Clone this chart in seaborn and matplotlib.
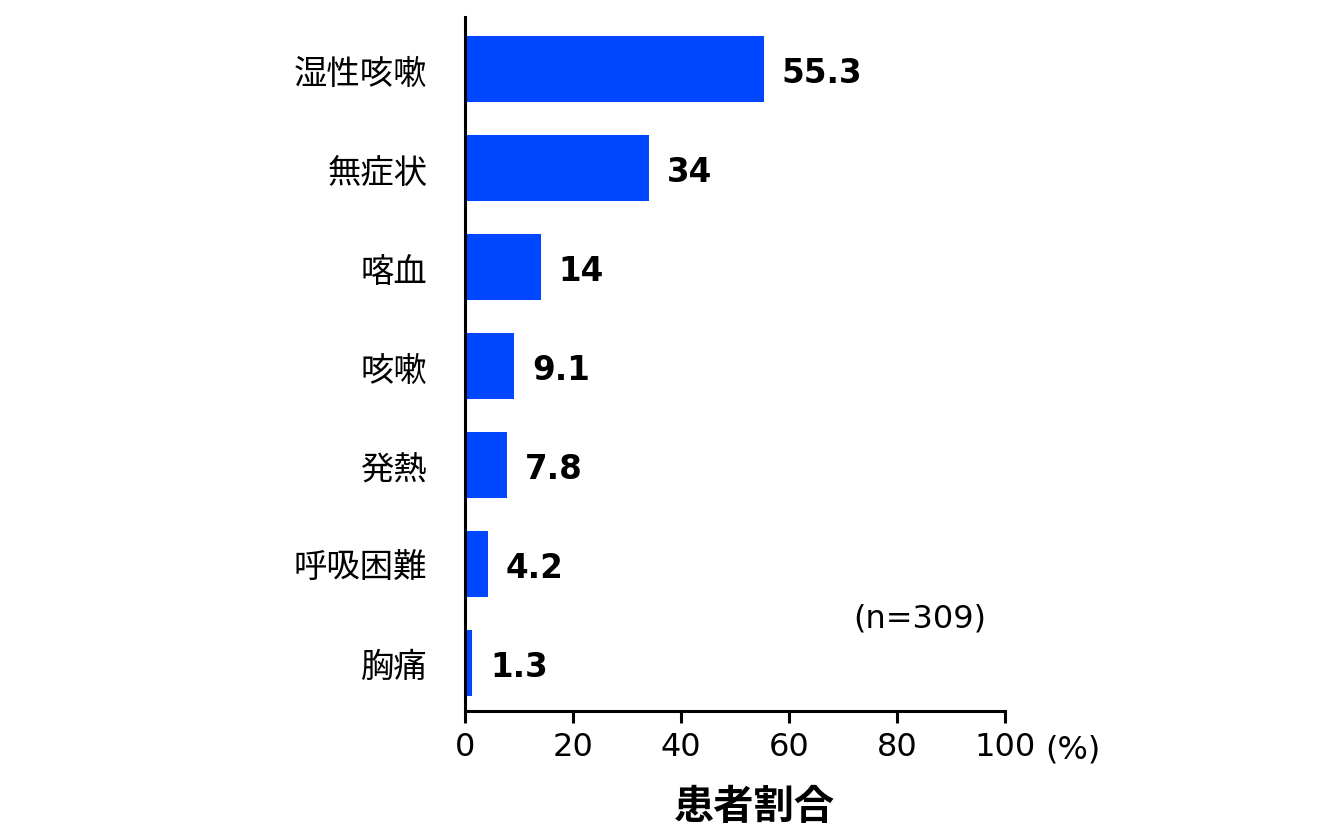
import matplotlib
matplotlib.use("Agg")
import matplotlib.pyplot as plt
import seaborn as sns
import pandas as pd

categories = ["湿性咳嗽", "無症状", "喀血", "咳嗽", "発熱", "呼吸困難", "胸痛"]
values = [55.3, 34, 14, 9.1, 7.8, 4.2, 1.3]
value_labels = ["55.3", "34", "14", "9.1", "7.8", "4.2", "1.3"]
x_ticks = [0, 20, 40, 60, 80, 100]
x_tick_labels = ["0", "20", "40", "60", "80", "100"]
x_unit = "(%)"
x_title = "患者割合"
note = "(n=309)"

sns.set_style("white")
plt.rcParams['font.family'] = ['DejaVu Sans', 'Noto Sans CJK JP']
plt.rcParams['text.color'] = 'black'
plt.rcParams['axes.labelcolor'] = 'black'
plt.rcParams['xtick.color'] = 'black'
plt.rcParams['ytick.color'] = 'black'

W, H = 1320, 828
fig = plt.figure(figsize=(W / 100, H / 100), dpi=100)
ax = fig.add_axes([465 / W, 1 - 712 / H, 540 / W, 694 / H])

df = pd.DataFrame({"category": categories, "value": values})
sns.barplot(data=df, x="value", y="category", order=categories, orient="h",
            color="#0047FF", saturation=1, width=0.67, ax=ax, edgecolor="none")

ax.set_xlim(0, 100)
ax.set_ylim(6.486, -0.526)

for s in ["top", "right"]:
    ax.spines[s].set_visible(False)
for s in ["left", "bottom"]:
    ax.spines[s].set_linewidth(2.2)
    ax.spines[s].set_color("black")

ax.set_xticks(x_ticks)
ax.set_xticklabels(x_tick_labels)
ax.tick_params(axis="x", length=8.6, width=2.2, color="black", labelsize=23, pad=6,
               direction="out", bottom=True, labelcolor="black")
ax.tick_params(axis="y", length=0, labelsize=24, pad=27, labelcolor="black")
for lab in ax.get_yticklabels():
    lab.set_family(['Noto Sans CJK JP', 'DejaVu Sans'])
ax.set_ylabel("")

texts = ax.bar_label(ax.containers[0], labels=value_labels, padding=13,
                     fontsize=23.5, fontweight="bold", color="black")
for t in texts:
    t.set_va("center_baseline")

ax.set_xlabel(x_title, fontsize=29, fontweight="bold",
              family=['Noto Sans CJK JP', 'DejaVu Sans'])
ax.xaxis.label.set_va("center")
ax.xaxis.set_label_coords((754 - 465) / 540, (712 - 808) / 694)

fig.text(1045 / W, 1 - 750 / H, x_unit, fontsize=23, ha="left", va="center")
fig.text(920 / W, 1 - 619 / H, note, fontsize=23, ha="center", va="center")

fig.savefig("out.png", dpi=100, facecolor="white")
